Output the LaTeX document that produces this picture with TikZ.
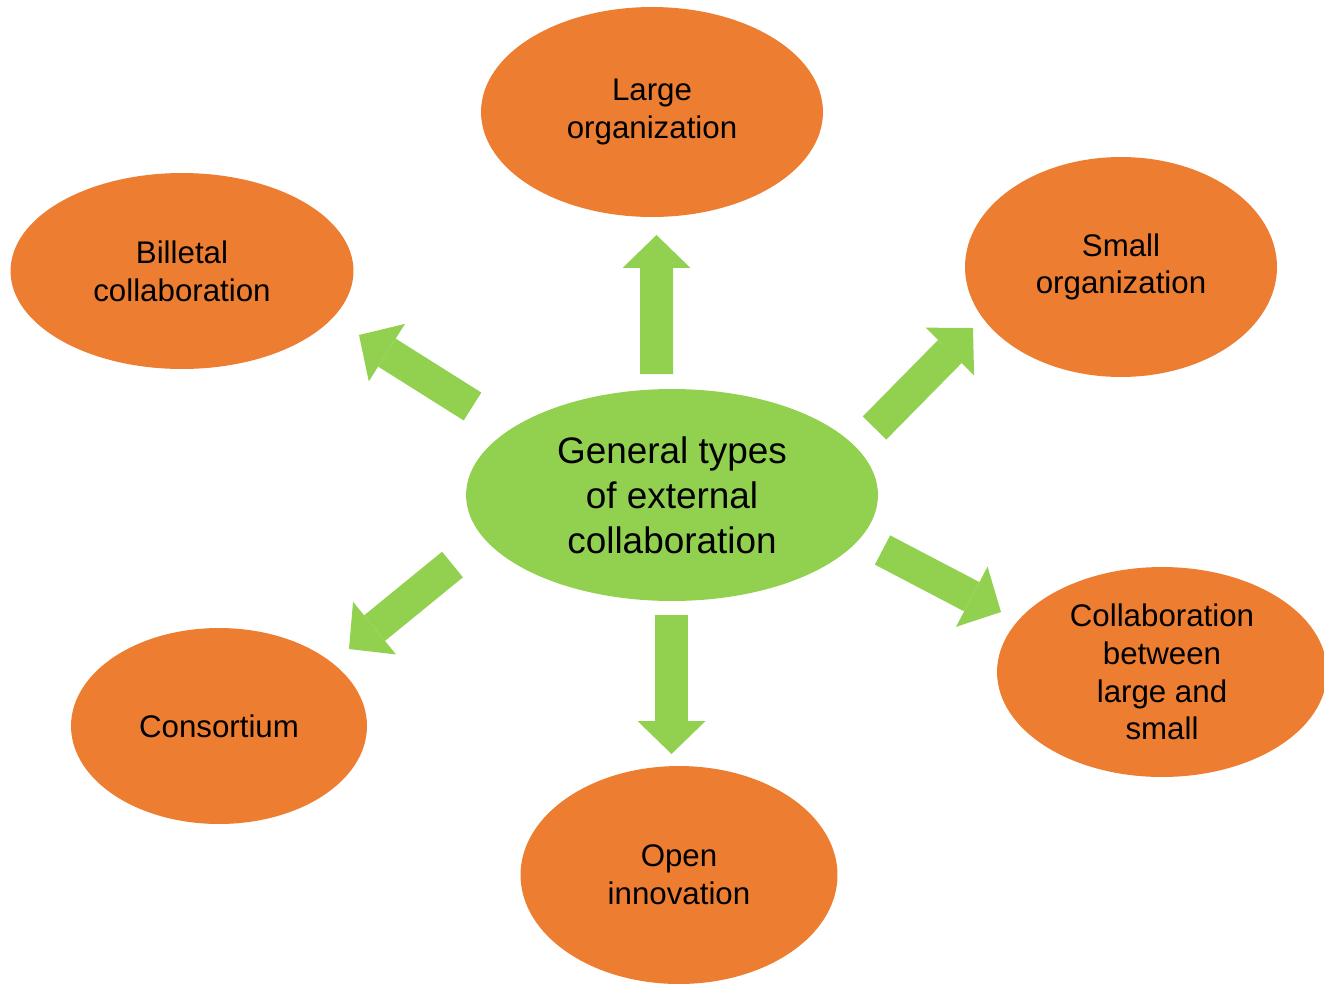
\documentclass[tikz,border=0pt]{standalone}
\usepackage{fontspec}
\setmainfont{Liberation Sans}
\usepackage{xcolor}
\usetikzlibrary{shapes.geometric,arrows.meta,calc}

\definecolor{leafgreen}{HTML}{92D050}
\definecolor{officeorange}{HTML}{ED7D31}

\tikzset{
	typebox/.style={ellipse, fill=officeorange, inner sep=0pt, align=center,
		font=\fontsize{17.8pt}{21.5pt}\selectfont},
	hubbox/.style={ellipse, fill=leafgreen, inner sep=0pt, align=center,
		font=\fontsize{21pt}{25.5pt}\selectfont},
	blockarrow/.style={draw=leafgreen, line width=0.66cm,
		-{Triangle[length=0.66cm, width=1.36cm, line width=0pt, color=leafgreen]}}
}

\begin{document}
\begin{tikzpicture}[x=0.02cm, y=-0.02cm]
		\useasboundingbox (0,0) rectangle (1324,984);
		% centre
		\node [hubbox, minimum width=8.24cm, minimum height=4.24cm] (hub) at (672,495)
			{General types\\of external\\collaboration};
		% outer types
		\node [typebox, minimum width=6.84cm, minimum height=4.2cm]  (large) at (652,112)  {Large\\organization};
		\node [typebox, minimum width=6.24cm, minimum height=4.4cm]  (small) at (1121,267) {Small\\organization};
		\node [typebox, minimum width=6.86cm, minimum height=3.92cm] (bil)   at (182,271)  {Billetal\\collaboration};
		\node [typebox, minimum width=5.92cm, minimum height=3.92cm] (cons)  at (219,726)  {Consortium};
		\node [typebox, minimum width=6.34cm, minimum height=4.36cm] (open)  at (679,875)  {Open\\innovation};
		\node [typebox, minimum width=6.6cm, minimum height=4.2cm]   (both)  at (1162,672) {Collaboration\\between\\large and\\small};
		% arrows
		\draw [blockarrow] ($(hub)+(-15.5,-121)$)  -- ($(large)+(4.5,123)$);
		\draw [blockarrow] ($(hub)+(202.5,-67)$)   -- ($(small)+(-148,61)$);
		\draw [blockarrow] ($(hub)+(-199.5,-88.5)$) -- ($(bil)+(177,64)$);
		\draw [blockarrow] ($(hub)+(-219.5,69.5)$) -- ($(cons)+(130,-77)$);
		\draw [blockarrow] ($(hub)+(-0.5,120)$)    -- ($(open)+(-7.5,-121)$);
		\draw [blockarrow] ($(hub)+(210.5,55)$)    -- ($(both)+(-161,-60)$);
	\end{tikzpicture}
\end{document}
